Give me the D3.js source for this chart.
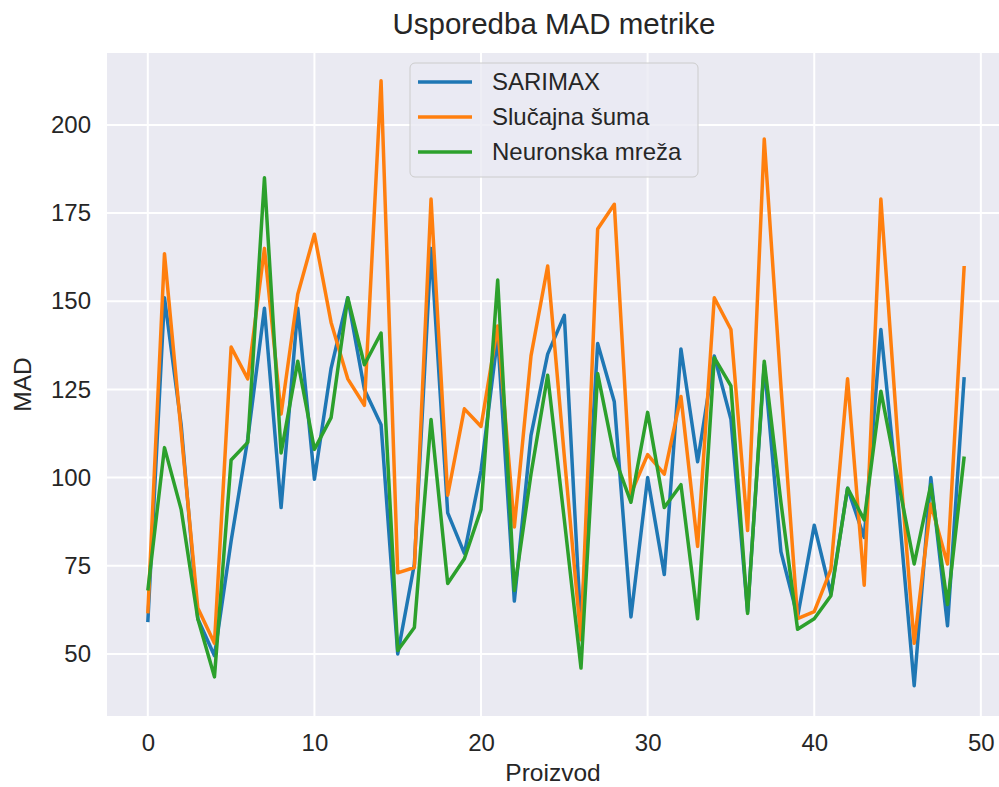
<!DOCTYPE html>
<meta charset="utf-8">
<script src="https://d3js.org/d3.v7.min.js"></script>
<style>
  body { margin: 0; background: #fff; }
  text { font-family: "Liberation Sans", Arial, sans-serif; fill: #262626; }
</style>
<div id="my_dataviz"></div>
<script>

// product index on the x axis
var products = d3.range(0, 50);

// MAD per product
var sarimax = [59, 151, 115, 60, 49.5, 82, 111, 148, 91.5, 148,
               99.5, 131, 151, 125, 115, 50, 75.5, 165, 90, 78.5,
               102, 140, 65, 112, 135, 146, 57, 138, 121.5, 60.5,
               100, 72.5, 136.5, 104.5, 134.5, 116.5, 62, 132, 79, 60.5,
               86.5, 67, 97, 83, 142, 95, 41, 100, 58, 128.5];

var randomForest = [61.5, 163.5, 113, 63, 53, 137, 128, 165, 118, 152,
                    169, 144, 128, 120.5, 212.5, 73, 74.5, 179, 95, 119.5,
                    114.5, 143, 86, 134.5, 160, 106, 54, 170.5, 177.5, 95.5,
                    106.5, 101, 123, 80.5, 151, 142, 85, 196, 126, 60,
                    62, 74, 128, 69.5, 179, 112, 53, 92.5, 75.5, 160];

var neuralNet = [68, 108.5, 91, 60, 43.5, 105, 110, 185, 107, 133,
                 108, 117, 151, 132, 141, 51, 57.5, 116.5, 70, 77,
                 91, 156, 68, 101, 129, 88, 46, 129.5, 106, 93,
                 118.5, 91.5, 98, 60, 134, 126, 61.5, 133, 93, 57,
                 60, 66.5, 97, 88, 124.5, 100, 75.5, 98, 64, 106];

var seriesNames = ["SARIMAX", "Slučajna šuma", "Neuronska mreža"];
var seriesColors = ["#1f77b4", "#ff7f0e", "#2ca02c"];
var xTicks = [0, 10, 20, 30, 40, 50];
var yTicks = [50, 75, 100, 125, 150, 175, 200];

// figure size and plot box
var W = 999, H = 787;
var plot = {left: 107, right: 1005, top: 53, bottom: 716};

var svg = d3.select("#my_dataviz")
  .append("svg")
    .attr("width", W)
    .attr("height", H);

var x = d3.scaleLinear()
  .domain([-2.45, 51.45])
  .range([plot.left, plot.right]);

var y = d3.scaleLinear()
  .domain([32.4, 220.4])
  .range([plot.bottom, plot.top]);

// seaborn darkgrid background
svg.append("rect")
  .attr("x", plot.left)
  .attr("y", plot.top)
  .attr("width", plot.right - plot.left)
  .attr("height", plot.bottom - plot.top)
  .attr("fill", "#eaeaf2");

// grid lines
svg.append("g")
  .selectAll("line")
  .data(yTicks)
  .enter()
  .append("line")
    .attr("x1", plot.left)
    .attr("x2", plot.right)
    .attr("y1", function(d) { return y(d); })
    .attr("y2", function(d) { return y(d); })
    .attr("stroke", "#fff")
    .attr("stroke-width", 2);

svg.append("g")
  .selectAll("line")
  .data(xTicks)
  .enter()
  .append("line")
    .attr("x1", function(d) { return x(d); })
    .attr("x2", function(d) { return x(d); })
    .attr("y1", plot.top)
    .attr("y2", plot.bottom)
    .attr("stroke", "#fff")
    .attr("stroke-width", 2);

// axes, no domain line or tick marks (darkgrid style)
var xAxis = svg.append("g")
  .attr("transform", "translate(0," + plot.bottom + ")")
  .call(d3.axisBottom(x).tickValues(xTicks).tickSize(0).tickPadding(18));

var yAxis = svg.append("g")
  .attr("transform", "translate(" + plot.left + ",0)")
  .call(d3.axisLeft(y).tickValues(yTicks).tickSize(0).tickPadding(16));

[xAxis, yAxis].forEach(function(a) {
  a.select(".domain").remove();
  a.selectAll("text")
    .style("font-size", "24px")
    .style("font-family", "'Liberation Sans', Arial, sans-serif")
    .attr("fill", "#262626");
});

// the three lines
var allSeries = [sarimax, randomForest, neuralNet];

var line = d3.line()
  .x(function(d, i) { return x(products[i]); })
  .y(function(d) { return y(d); });

svg.append("g")
  .selectAll("path")
  .data(allSeries)
  .enter()
  .append("path")
    .attr("d", line)
    .attr("fill", "none")
    .attr("stroke", function(d, i) { return seriesColors[i]; })
    .attr("stroke-width", 3.5)
    .attr("stroke-linejoin", "round");

// title and axis labels
svg.append("text")
  .attr("x", 554)
  .attr("y", 34)
  .attr("text-anchor", "middle")
  .style("font-size", "29.5px")
  .text("Usporedba MAD metrike");

svg.append("text")
  .attr("x", 553)
  .attr("y", 781)
  .attr("text-anchor", "middle")
  .style("font-size", "24.5px")
  .text("Proizvod");

svg.append("text")
  .attr("transform", "translate(31," + ((plot.top + plot.bottom) / 2) + ") rotate(-90)")
  .attr("text-anchor", "middle")
  .style("font-size", "24.5px")
  .text("MAD");

// legend
var legend = svg.append("g")
  .attr("transform", "translate(410,63)");

legend.append("rect")
  .attr("width", 288)
  .attr("height", 114)
  .attr("rx", 5)
  .attr("fill", "#eaeaf2")
  .attr("fill-opacity", 0.8)
  .attr("stroke", "#cccccc")
  .attr("stroke-width", 1);

var items = legend.selectAll(".item")
  .data(seriesNames)
  .enter()
  .append("g")
    .attr("class", "item")
    .attr("transform", function(d, i) { return "translate(0," + (19 + i * 35) + ")"; });

items.append("line")
  .attr("x1", 8)
  .attr("x2", 62)
  .attr("stroke", function(d, i) { return seriesColors[i]; })
  .attr("stroke-width", 3.5);

items.append("text")
  .attr("x", 82)
  .attr("dy", "0.35em")
  .style("font-size", "24px")
  .text(function(d) { return d; });

</script>
